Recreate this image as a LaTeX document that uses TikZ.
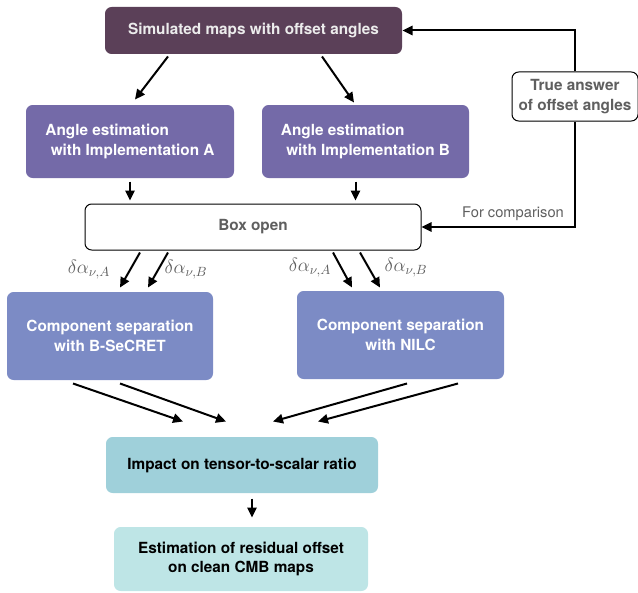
\documentclass[tikz,border=0pt]{standalone}
\usepackage{fontspec}
\setmainfont{TeX Gyre Heros}
\usetikzlibrary{arrows.meta,calc}

\definecolor{simplum}{RGB}{91,64,88}
\definecolor{angpurple}{RGB}{116,106,168}
\definecolor{sepblue}{RGB}{124,139,197}
\definecolor{impteal}{RGB}{159,208,218}
\definecolor{estcyan}{RGB}{190,229,230}
\definecolor{labgray}{RGB}{95,95,95}

\tikzset{every picture/.style={line width=0.75pt}}
\tikzset{
  blk/.style={rounded corners=5pt, inner sep=0pt, align=center, font=\fontsize{11.5}{14.5}\selectfont\bfseries},
  outline/.style={blk, draw=black, line width=0.75pt, fill=white, text=labgray},
  flow/.style={line width=1.5pt, -{Triangle[length=7.5pt,width=7pt]}},
  dlabel/.style={text=labgray, font=\fontsize{14}{16}\selectfont},
}

\begin{document}
\begin{tikzpicture}[x=0.75pt,y=0.75pt,yscale=-1,xscale=1]
\useasboundingbox (0,0) rectangle (638,592);

%Shape: Rounded Rect [id:sim]
\node [blk, fill=simplum, text=white!85!gray, minimum width=222.75pt, minimum height=35.25pt] (sim) at (253.5,30.5) {Simulated maps with offset angles};
%Shape: Rounded Rect [id:angA]
\node [blk, fill=angpurple, text=white, align=left, minimum width=156pt, minimum height=54.75pt] (angA) at (130,141.5) {Angle estimation\\\hspace*{4pt}with Implementation A};
%Shape: Rounded Rect [id:angB]
\node [blk, fill=angpurple, text=white, align=left, minimum width=155.25pt, minimum height=54.75pt] (angB) at (365.5,141.5) {Angle estimation\\\hspace*{4pt}with Implementation B};
%Shape: Rounded Rect [id:truth]
\node [outline, minimum width=94.5pt, minimum height=36.75pt] (truth) at (575,96.5) {True answer\\of offset angles};
%Shape: Rounded Rect [id:boxopen]
\node [outline, minimum width=252pt, minimum height=34.5pt] (boxopen) at (253,227) {Box open};
%Shape: Rounded Rect [id:sepB]
\node [blk, fill=sepblue, text=white, minimum width=154.5pt, minimum height=66pt] (sepB) at (110,336) {Component separation\\with B-SeCRET};
%Shape: Rounded Rect [id:sepN]
\node [blk, fill=sepblue, text=white, minimum width=155.25pt, minimum height=66pt] (sepN) at (400.5,335) {Component separation\\with NILC};
%Shape: Rounded Rect [id:impact]
\node [blk, fill=impteal, text=black, minimum width=204pt, minimum height=42pt] (impact) at (242,465) {Impact on tensor-to-scalar ratio};
%Shape: Rounded Rect [id:est]
\node [blk, fill=estcyan, text=black, minimum width=190.5pt, minimum height=48pt] (est) at (241,559) {Estimation of residual offset\\on clean CMB maps};

%Straight Lines [id:sim-ang]
\draw [flow] ($(sim.south)+(-85.5,2)$) -- ($(angA.north)+(5,-5)$);
\draw [flow] ($(sim.south)+(68.5,2)$) -- ($(angB.north)+(-11.5,-2)$);
%Straight Lines [id:ang-box]
\draw [flow] ($(angA.south)+(0,3)$) -- ($(angA.south |- boxopen.north)+(0,-3)$);
\draw [flow] ($(angB.south)+(-10,3)$) -- ($(angB.south |- boxopen.north)+(-10,-3)$);
%Straight Lines [id:truth loop]
\draw [flow] (truth.south) |- (boxopen.east);
\draw [flow] (truth.north) |- (sim.east);
%Straight Lines [id:box-sep]
\draw [flow] ($(boxopen.south)+(-113,2)$) -- ($(sepB.north)+(10,-4)$);
\draw [flow] ($(boxopen.south)+(-85,2)$) -- ($(sepB.north)+(38,-4)$);
\draw [flow] ($(boxopen.south)+(80,2)$) -- ($(sepN.north)+(-48.5,-3)$);
\draw [flow] ($(boxopen.south)+(107,2)$) -- ($(sepN.north)+(-20.5,-3)$);
%Straight Lines [id:sep-impact]
\draw [flow] ($(sepB.south)+(-37,3)$) -- ($(impact.north)+(-59,-15)$);
\draw [flow] ($(sepB.south)+(10,3)$) -- ($(impact.north)+(-16,-15)$);
\draw [flow] ($(sepN.south)+(6.5,4)$) -- ($(impact.north)+(31,-15)$);
\draw [flow] ($(sepN.south)+(57.5,4)$) -- ($(impact.north)+(76,-15)$);
%Straight Lines [id:impact-est]
\draw [flow] ($(impact.south)+(10,5)$) -- ($(est.north)+(11,-9)$);

% Text Node
\node [text=labgray, font=\fontsize{11}{13}\selectfont] (cmp) at (513,214) {For comparison};
% Text Node
\node [dlabel] (la1) at (89,270) {$\delta\alpha_{\nu,A}$};
% Text Node
\node [dlabel] (lb1) at (186,270) {$\delta\alpha_{\nu,B}$};
% Text Node
\node [dlabel] (la2) at (310,268) {$\delta\alpha_{\nu,A}$};
% Text Node
\node [dlabel] (lb2) at (406,268) {$\delta\alpha_{\nu,B}$};

\end{tikzpicture}
\end{document}
